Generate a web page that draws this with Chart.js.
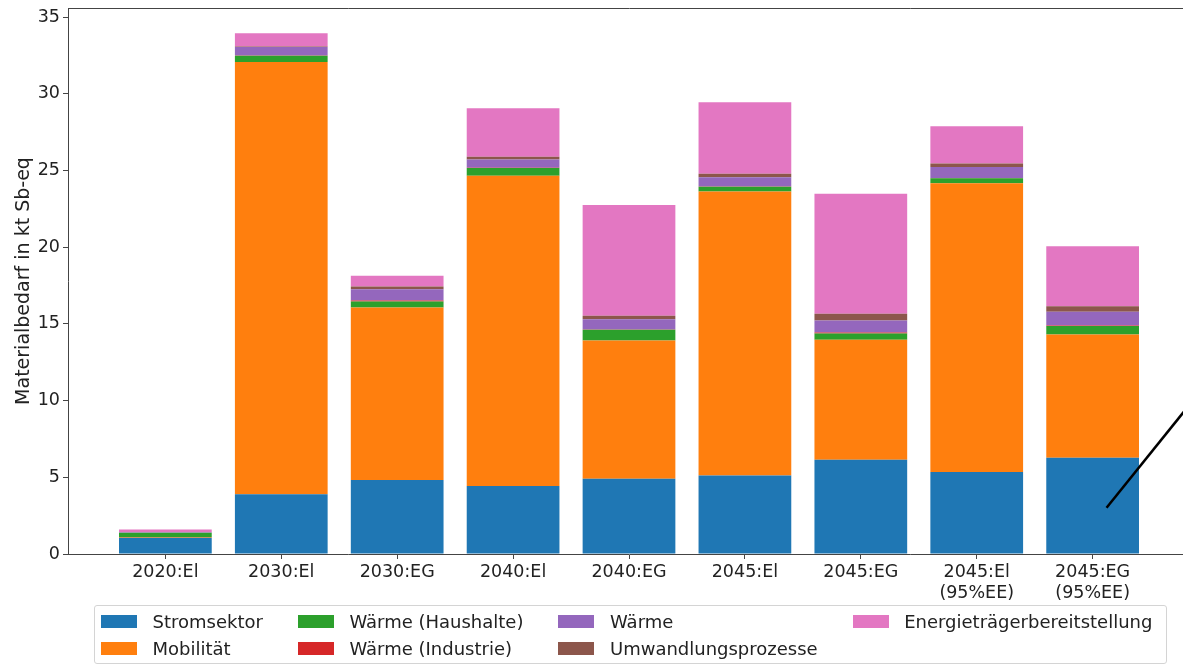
<!DOCTYPE html>
<html lang="de">
<head>
<meta charset="utf-8">
<title>Materialbedarf</title>
<script src="https://cdn.jsdelivr.net/npm/chart.js@4"></script>
<style>
  html, body { margin: 0; padding: 0; background: #fff; overflow: hidden; }
  #wrap { position: relative; width: 1183px; height: 665px; overflow: hidden; }
  #grafik { position: absolute; left: 0; top: 0; }
  #legende {
    position: absolute; left: 94px; top: 605px;
    border: 1px solid #d4d4d4; border-radius: 3px;
    padding: 2px 14px 1px 6px;
    display: grid; grid-auto-flow: column;
    grid-template-rows: repeat(2, 27px); column-gap: 35px;
    font: 18px "DejaVu Sans", sans-serif; color: #222;
  }
  #legende .item { display: flex; align-items: center; white-space: nowrap; }
  #legende .box { width: 36px; height: 13px; margin-right: 15.5px; }
</style>
</head>
<body>
<div id="wrap">
  <canvas id="grafik" width="1200" height="665"></canvas>
  <div id="legende"></div>
</div>
<script>
const kategorien = ['2020:El', '2030:El', '2030:EG', '2040:El', '2040:EG', '2045:El', '2045:EG',
  ['2045:El', '(95%EE)'], ['2045:EG', '(95%EE)']];

const stromsektor    = [1.06, 3.90, 4.83, 4.44, 4.90, 5.12, 6.14, 5.34, 6.27];
const mobilitaet     = [0.05, 28.18, 11.24, 20.22, 9.02, 18.52, 7.83, 18.84, 8.04];
const waermeHaushalt = [0.27, 0.41, 0.39, 0.50, 0.70, 0.30, 0.41, 0.32, 0.56];
const waermeIndustr  = [0.01, 0.01, 0.07, 0.02, 0.02, 0.02, 0.06, 0.01, 0.03];
const waerme         = [0.02, 0.56, 0.73, 0.54, 0.67, 0.61, 0.78, 0.73, 0.89];
const umwandlung     = [0.01, 0.03, 0.18, 0.18, 0.22, 0.22, 0.44, 0.22, 0.37];
const energietraeger = [0.17, 0.87, 0.71, 3.16, 7.22, 4.66, 7.83, 2.43, 3.90];

// schwarze Linie rechts unten (Datenkoordinaten)
const linieX = [8.12, 8.84];
const linieY = [3.02, 9.77];

const yTicks = [0, 5, 10, 15, 20, 25, 30, 35];

const serien = [
  ['Stromsektor', stromsektor, '#1f77b4'],
  ['Mobilität', mobilitaet, '#ff7f0e'],
  ['Wärme (Haushalte)', waermeHaushalt, '#2ca02c'],
  ['Wärme (Industrie)', waermeIndustr, '#d62728'],
  ['Wärme', waerme, '#9467bd'],
  ['Umwandlungsprozesse', umwandlung, '#8c564b'],
  ['Energieträgerbereitstellung', energietraeger, '#e377c2']
];

const schrift = { family: 'DejaVu Sans', size: 17.5 };
const farbe = '#222';

const datasets = serien.map(([name, werte, col]) => ({
  type: 'bar',
  label: name,
  data: werte.map((v, i) => ({ x: i, y: v })),
  backgroundColor: col,
  borderWidth: 0,
  barPercentage: 1,
  categoryPercentage: 0.8,
  stack: 'a',
  order: 1
}));

datasets.push({
  type: 'line',
  label: 'linie',
  data: linieX.map((x, i) => ({ x: x, y: linieY[i] })),
  borderColor: '#000',
  borderWidth: 2.5,
  pointRadius: 0,
  stack: 'linie',
  order: 0
});

const chart = new Chart(document.getElementById('grafik').getContext('2d'), {
  type: 'bar',
  data: { datasets: datasets },
  options: {
    responsive: false,
    animation: false,
    devicePixelRatio: 1,
    layout: { padding: { left: 0, top: 8, right: 10, bottom: 0 } },
    plugins: { legend: { display: false }, tooltip: { enabled: false } },
    scales: {
      x: {
        type: 'linear',
        stacked: true,
        offset: false,
        min: -0.84,
        max: 8.84,
        afterFit: s => { s.height = 111; s.paddingLeft = 0; s.paddingRight = 0; },
        afterBuildTicks: s => { s.ticks = kategorien.map((k, i) => ({ value: i })); },
        ticks: {
          stepSize: 1,
          includeBounds: false,
          autoSkip: false,
          maxRotation: 0,
          padding: 3,
          font: schrift,
          color: farbe,
          callback: v => kategorien[v]
        },
        grid: { offset: false, drawOnChartArea: false, drawTicks: true, tickLength: 5, color: '#444' },
        border: { color: '#444', width: 1 }
      },
      xOben: {
        type: 'linear',
        position: 'top',
        offset: false,
        min: -0.84,
        max: 8.84,
        afterFit: s => { s.height = 0; s.paddingLeft = 0; s.paddingRight = 0; },
        ticks: { display: false },
        grid: { display: false },
        border: { color: '#444', width: 1 }
      },
      y: {
        stacked: true,
        min: 0,
        max: 35.6,
        afterFit: s => { s.width = 68; s.paddingTop = 0; s.paddingBottom = 0; },
        afterBuildTicks: s => { s.ticks = yTicks.map(v => ({ value: v })); },
        ticks: { stepSize: 5, includeBounds: false, padding: 3, font: schrift, color: farbe },
        grid: { drawOnChartArea: false, drawTicks: true, tickLength: 5, color: '#444' },
        border: { color: '#444', width: 1 },
        title: {
          display: true,
          text: 'Materialbedarf in kt Sb-eq',
          font: { family: 'DejaVu Sans', size: 19 },
          color: farbe,
          padding: { top: 12.5, bottom: 0 }
        }
      }
    }
  }
});

const legende = document.getElementById('legende');
chart.data.datasets.filter(d => d.type === 'bar').forEach(d => {
  const item = document.createElement('div');
  item.className = 'item';
  item.innerHTML = `<span class="box" style="background:${d.backgroundColor}"></span><span>${d.label}</span>`;
  legende.appendChild(item);
});
</script>
</body>
</html>
